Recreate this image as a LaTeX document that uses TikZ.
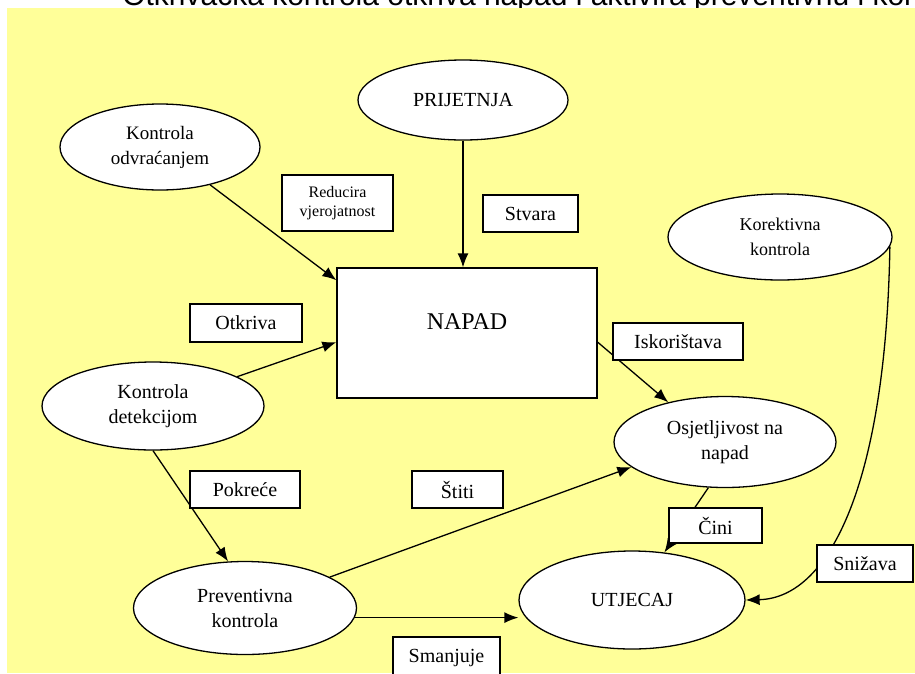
\documentclass[tikz,border=0pt]{standalone}
\usepackage{fontspec}
\setmainfont{Liberation Serif}
\newfontfamily\sansfont{Liberation Sans}
\usetikzlibrary{shapes.geometric,arrows.meta}
\definecolor{pozadina}{HTML}{FFFF99}
\begin{document}
\begin{tikzpicture}[x=1pt,y=-1pt,
   every node/.style={draw,fill=white,line width=1.3pt,align=center,
     font=\fontsize{20}{25}\selectfont},
   oval/.style={ellipse,inner sep=0pt},
   tag/.style={rectangle,inner sep=0pt,minimum height=37pt},
   link/.style={-{Latex[length=14pt,width=11pt]},line width=1.3pt}]

\useasboundingbox (0,0) rectangle (915,673);
\fill[white] (0,0) rectangle (915,673);
\node[draw=none,fill=none,anchor=base west,
  font=\sansfont\fontsize{30}{30}\selectfont] (naslov) at (100,5)
  {- Otkrivačka kontrola otkriva napad i aktivira preventivnu i korektivnu};
\fill[pozadina] (7,8) rectangle (915,673);

\node[oval,minimum width=210pt,minimum height=80pt] (prijetnja) at (463,100) {PRIJETNJA};
\node[oval,minimum width=200pt,minimum height=86pt,font=\fontsize{19}{25}\selectfont]
  (odvracanje) at (160,147) {Kontrola\\odvraćanjem};
\node[oval,minimum width=224pt,minimum height=86pt,font=\fontsize{18}{25}\selectfont]
  (korektivna) at (780,237) {Korektivna\\kontrola};
\node[oval,minimum width=222pt,minimum height=88pt] (detekcija) at (153,406) {Kontrola\\detekcijom};
\node[oval,minimum width=222pt,minimum height=91pt] (osjetljivost) at (725,442) {Osjetljivost na\\napad};
\node[oval,minimum width=223pt,minimum height=93pt] (preventivna) at (245,608) {Preventivna\\kontrola};
\node[oval,minimum width=226pt,minimum height=98pt] (utjecaj) at (632,600) {UTJECAJ};
\node[rectangle,minimum width=260pt,minimum height=130pt,text depth=22pt,
  font=\fontsize{24}{28}\selectfont] (napad) at (467,333) {NAPAD};

\draw[link] (prijetnja.south) -- (prijetnja.south |- napad.north);
\draw[link] (odvracanje) -- (napad.158);
\draw[link] (detekcija) -- (napad.184);
\draw[link] (detekcija.south) -- (preventivna.110);
\draw[link] (napad.-4) -- (osjetljivost.145);
\draw[link] (preventivna) -- (osjetljivost.195);
\draw[link] (preventivna.-5) -- (preventivna.-5 -| utjecaj.west);
\draw[link] (osjetljivost.-110) -- (utjecaj);
\draw[link] (korektivna.-5) .. controls +(-4,234) and +(85,-2) .. (utjecaj.east);

\node[tag,minimum width=111pt,minimum height=56pt,font=\fontsize{16}{19}\selectfont]
  (reducira) at (337.5,203) {Reducira\\vjerojatnost};
\node[tag,minimum width=95pt] (stvara) at (530.5,213.5) {Stvara};
\node[tag,minimum width=112pt,minimum height=38pt] (otkriva) at (246,323) {Otkriva};
\node[tag,minimum width=130pt] (iskoristava) at (678,341.5) {Iskorištava};
\node[tag,minimum width=110pt] (pokrece) at (245,489.5) {Pokreće};
\node[tag,minimum width=91pt] (stiti) at (457.5,489.5) {Štiti};
\node[tag,minimum width=93pt,minimum height=35pt] (cini) at (715.5,525.5) {Čini};
\node[tag,minimum width=96pt] (snizava) at (865,563.5) {Snižava};
\node[tag,minimum width=107pt,minimum height=42pt] (smanjuje) at (446.5,658) {Smanjuje};

\end{tikzpicture}
\end{document}
